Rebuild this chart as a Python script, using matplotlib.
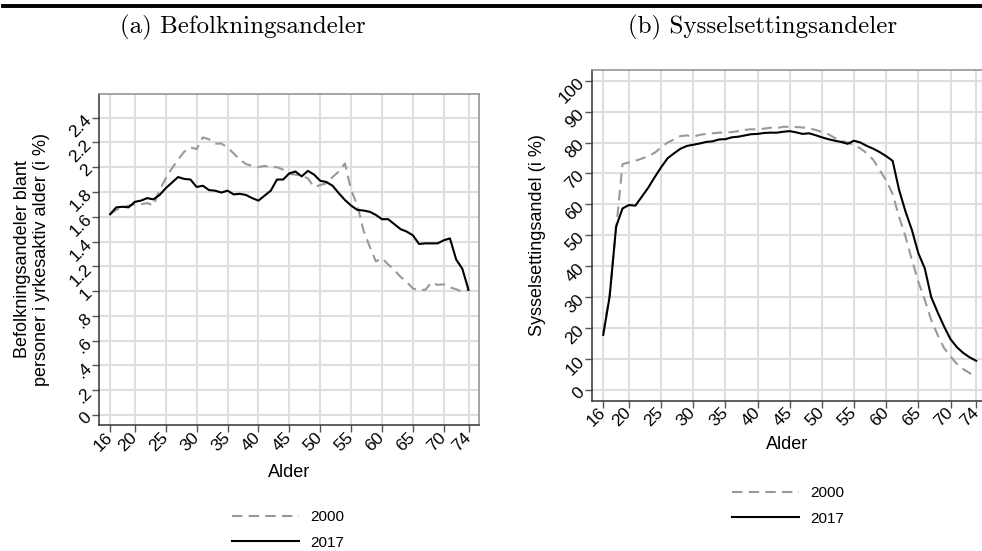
import matplotlib.pyplot as plt
from matplotlib.lines import Line2D

plt.rcParams['font.family'] = ['Liberation Sans', 'DejaVu Sans']

ages = list(range(16, 75))

# (a) Befolkningsandeler, i prosent
pop_2000 = [1.62, 1.655, 1.675, 1.69, 1.70, 1.70, 1.71, 1.69, 1.815, 1.91,
            1.99, 2.06, 2.125, 2.16, 2.145, 2.24, 2.225, 2.19, 2.19, 2.16,
            2.11, 2.06, 2.025, 2.01, 2.00, 2.01, 2.00, 2.00, 1.98, 1.945,
            1.94, 1.93, 1.91, 1.84, 1.855, 1.87, 1.92, 1.965, 2.03, 1.815,
            1.695, 1.49, 1.36, 1.24, 1.265, 1.215, 1.17, 1.115, 1.075, 1.02,
            1.01, 1.01, 1.07, 1.05, 1.055, 1.03, 1.015, 0.995, 1.01]
pop_2017 = [1.62, 1.676, 1.68, 1.676, 1.72, 1.73, 1.75, 1.74, 1.775, 1.83,
            1.875, 1.92, 1.905, 1.90, 1.84, 1.85, 1.815, 1.81, 1.795, 1.81,
            1.78, 1.785, 1.775, 1.75, 1.73, 1.77, 1.81, 1.90, 1.90, 1.95,
            1.965, 1.925, 1.97, 1.94, 1.89, 1.88, 1.85, 1.79, 1.735, 1.69,
            1.655, 1.65, 1.64, 1.615, 1.58, 1.58, 1.54, 1.50, 1.48, 1.45,
            1.38, 1.385, 1.385, 1.385, 1.41, 1.425, 1.255, 1.18, 1.01]

# (b) Sysselsettingsandel, i prosent
emp_2000 = [18.5, 31.0, 52.0, 73.0, 73.6, 74.1, 74.8, 75.6, 76.7, 78.4,
            80.0, 81.0, 82.1, 82.3, 81.9, 82.5, 82.8, 83.0, 83.2, 83.3,
            83.4, 83.7, 84.1, 84.3, 84.3, 84.5, 84.8, 84.7, 85.1, 85.1,
            85.0, 84.9, 84.6, 84.1, 83.4, 82.7, 81.5, 80.6, 80.0, 79.2,
            78.1, 76.5, 74.4, 71.1, 67.7, 63.4, 56.0, 49.6, 42.0, 35.0,
            29.1, 22.6, 17.8, 13.5, 10.8, 8.4, 6.7, 5.4, 4.3]
emp_2017 = [17.8, 30.2, 52.8, 58.7, 59.8, 59.6, 62.5, 65.4, 68.8, 72.0,
            74.9, 76.5, 78.0, 78.9, 79.3, 79.7, 80.2, 80.4, 81.0, 81.1,
            81.7, 81.9, 82.3, 82.7, 82.8, 83.1, 83.2, 83.2, 83.5, 83.7,
            83.3, 82.8, 83.0, 82.4, 81.7, 81.1, 80.6, 80.2, 79.6, 80.6,
            80.0, 78.9, 78.0, 76.9, 75.6, 74.1, 64.7, 57.7, 51.7, 44.2,
            39.3, 30.0, 25.1, 20.5, 16.4, 13.8, 11.9, 10.5, 9.4]

xticks = [16, 20, 25, 30, 35, 40, 45, 50, 55, 60, 65, 70, 74]
pop_ticks = [0, 0.2, 0.4, 0.6, 0.8, 1.0, 1.2, 1.4, 1.6, 1.8, 2.0, 2.2, 2.4]
pop_labels = ['0', '.2', '.4', '.6', '.8', '1', '1.2', '1.4', '1.6', '1.8', '2', '2.2', '2.4']
emp_ticks = list(range(0, 101, 10))

GRID = '#dedede'


def style_axes(ax, yticks, ylabels):
    ax.set_xticks(xticks)
    ax.set_xticklabels([str(t) for t in xticks])
    ax.set_yticks(yticks)
    ax.set_yticklabels(ylabels)
    ax.grid(True, color=GRID, linewidth=1.5)
    ax.set_axisbelow(True)
    for s in ['left', 'bottom']:
        ax.spines[s].set_color('#333333')
        ax.spines[s].set_linewidth(1.1)
    for s in ['top', 'right']:
        ax.spines[s].set_color('#8c8c8c')
        ax.spines[s].set_linewidth(1.1)
    ax.tick_params(length=5, width=1, color='#555555', labelsize=12.5, pad=2)
    plt.setp(ax.get_yticklabels(), rotation=45, ha='right', va='center', rotation_mode='anchor')
    plt.setp(ax.get_xticklabels(), rotation=45, ha='right', va='center', rotation_mode='anchor')
    ax.set_xlabel('Alder', fontsize=13)


fig = plt.figure(figsize=(9.82, 5.51), dpi=100)

ax1 = fig.add_axes([0.1008, 0.2287, 0.387, 0.6007])
l1, = ax1.plot(ages, pop_2000, color='#999999', lw=1.5, dashes=(5, 3))
l2, = ax1.plot(ages, pop_2017, color='black', lw=1.5)
ax1.set_xlim(14.2, 75.7)
ax1.set_ylim(-0.08, 2.59)
style_axes(ax1, pop_ticks, pop_labels)
ax1.set_ylabel('Befolkningsandeler blant\npersoner i yrkesaktiv alder (i %)', fontsize=13, labelpad=12)
ax1.xaxis.labelpad = 7

ax2 = fig.add_axes([0.6025, 0.2728, 0.3985, 0.6003])
ax2.plot(ages, emp_2000, color='#999999', lw=1.5, dashes=(5, 3))
ax2.plot(ages, emp_2017, color='black', lw=1.5)
ax2.set_xlim(14.2, 75.05)
ax2.set_ylim(-3.5, 103.5)
style_axes(ax2, emp_ticks, [str(t) for t in emp_ticks])
ax2.set_ylabel('Sysselsettingsandel (i %)', fontsize=13, labelpad=7)
ax2.xaxis.labelpad = 5

# panel titles (LaTeX-style serif)
fig.text(243 / 982, 1 - 27 / 551, '(a) Befolkningsandeler', family='cmr10', fontsize=18,
         ha='center', va='center')
fig.text(763 / 982, 1 - 27 / 551, '(b) Sysselsettingsandeler', family='cmr10', fontsize=18,
         ha='center', va='center')

fig.legend([l1, l2], ['2000', '2017'], loc='center left', bbox_to_anchor=(232 / 982, 1 - 530 / 551),
           frameon=False, fontsize=11, handlelength=4.4, handletextpad=0.7, labelspacing=0.75,
           borderpad=0, borderaxespad=0)
fig.legend([l1, l2], ['2000', '2017'], loc='center left', bbox_to_anchor=(732 / 982, 1 - 506 / 551),
           frameon=False, fontsize=11, handlelength=4.4, handletextpad=0.7, labelspacing=0.75,
           borderpad=0, borderaxespad=0)

# rule under the caption
fig.add_artist(Line2D([0.003, 1.0], [1 - 6 / 551, 1 - 6 / 551], color='black', lw=2.8,
                      transform=fig.transFigure))

fig.savefig('out.png', dpi=100)
